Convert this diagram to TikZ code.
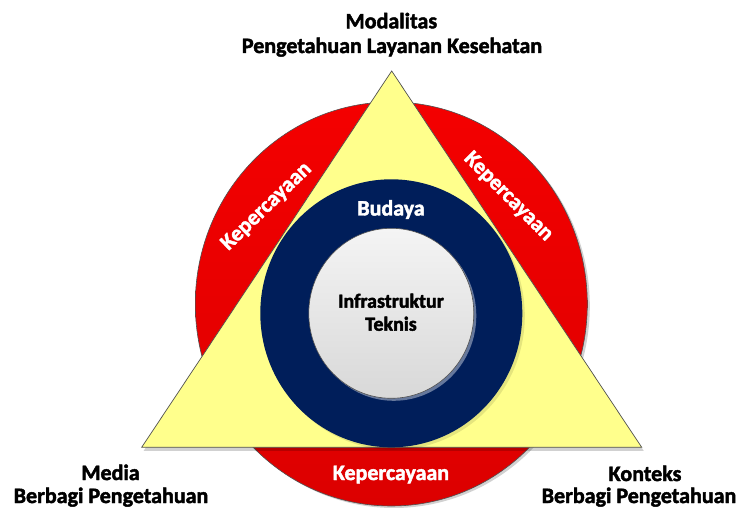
\documentclass[tikz,border=0pt]{standalone}
\usepackage{fontspec}
\setmainfont{Carlito}[BoldFont={Carlito Bold}]
\definecolor{ringred}{RGB}{244,0,0}
\definecolor{ringreddark}{RGB}{220,0,0}
\definecolor{triyellow}{RGB}{255,255,140}
\definecolor{culturenavy}{RGB}{0,30,90}
\definecolor{corelight}{RGB}{244,244,244}
\definecolor{coredark}{RGB}{216,216,216}
\definecolor{edgegray}{RGB}{80,80,80}
% heavier glyphs: fill and stroke the text outlines
\newcommand{\heavyglyphs}{\special{pdf:literal direct 2 Tr 0.45 w 1 j}}
\begin{document}
\begin{tikzpicture}[x=1pt,y=-1pt,
  lbl/.style={font=\fontsize{22}{26}\selectfont\bfseries\heavyglyphs, inner sep=0pt, anchor=base},
  trust/.style={lbl, text=white},
  core/.style={lbl, font=\fontsize{20}{23}\selectfont\bfseries\heavyglyphs},
  shadowfill/.style={fill=black, opacity=0.18},
]
\useasboundingbox (0,0) rectangle (740,508);

% key points
\coordinate (c) at (391.3,304);
\coordinate (m) at (391.3,313.3);
\coordinate (apex) at (391.7,71);
\coordinate (bl) at (141.7,447.3);
\coordinate (br) at (641.7,447.3);

% outer trust ring
\fill[shadowfill] ([shift={(2.5,2)}]c) ellipse [x radius=196pt, y radius=202pt];
\shade[top color=ringred, bottom color=ringreddark, draw=edgegray, line width=0.6pt]
  (c) ellipse [x radius=196pt, y radius=202pt];

% knowledge triangle
\fill[shadowfill] ([shift={(2,3.5)}]apex) -- ([shift={(2,3.5)}]bl) -- ([shift={(2,3.5)}]br) -- cycle;
\draw[fill=triyellow, draw=edgegray, line width=0.7pt, line join=miter] (apex) -- (bl) -- (br) -- cycle;

% culture ring
\fill[black, opacity=0.1] ([shift={(2.5,2.5)}]m) ellipse [x radius=131pt, y radius=134pt];
\fill[culturenavy] (m) ellipse [x radius=131pt, y radius=134pt];

% technical core
\fill[white, opacity=0.4] ([shift={(2.5,2.5)}]m) ellipse [x radius=82.5pt, y radius=85pt];
\shade[top color=corelight, bottom color=coredark, draw=edgegray, line width=0.6pt]
  (m) ellipse [x radius=82.5pt, y radius=85pt];

% labels
\node[lbl] (mod1) at (391.3,28.3) {Modalitas};
\node[lbl] (mod2) at (392,53) {Pengetahuan Layanan Kesehatan};
\node[lbl] (med1) at (110.5,480) {Media};
\node[lbl] (med2) at (111,503) {Berbagi Pengetahuan};
\node[lbl] (kon1) at (645,481) {Konteks};
\node[lbl] (kon2) at (639,503) {Berbagi Pengetahuan};

\node[trust] (trustB) at (391,480) {Kepercayaan};
\node[trust, anchor=center, rotate=44] (trustL) at (266.7,206.7) {Kepercayaan};
\node[trust, anchor=center, rotate=-45] (trustR) at (508.3,196.7) {Kepercayaan};

\node[lbl, text=white] (bud) at (391,215.5) {Budaya};
\node[core] (inf1) at (391,307.7) {Infrastruktur};
\node[core] (inf2) at (391,330.7) {Teknis};
\end{tikzpicture}
\end{document}
